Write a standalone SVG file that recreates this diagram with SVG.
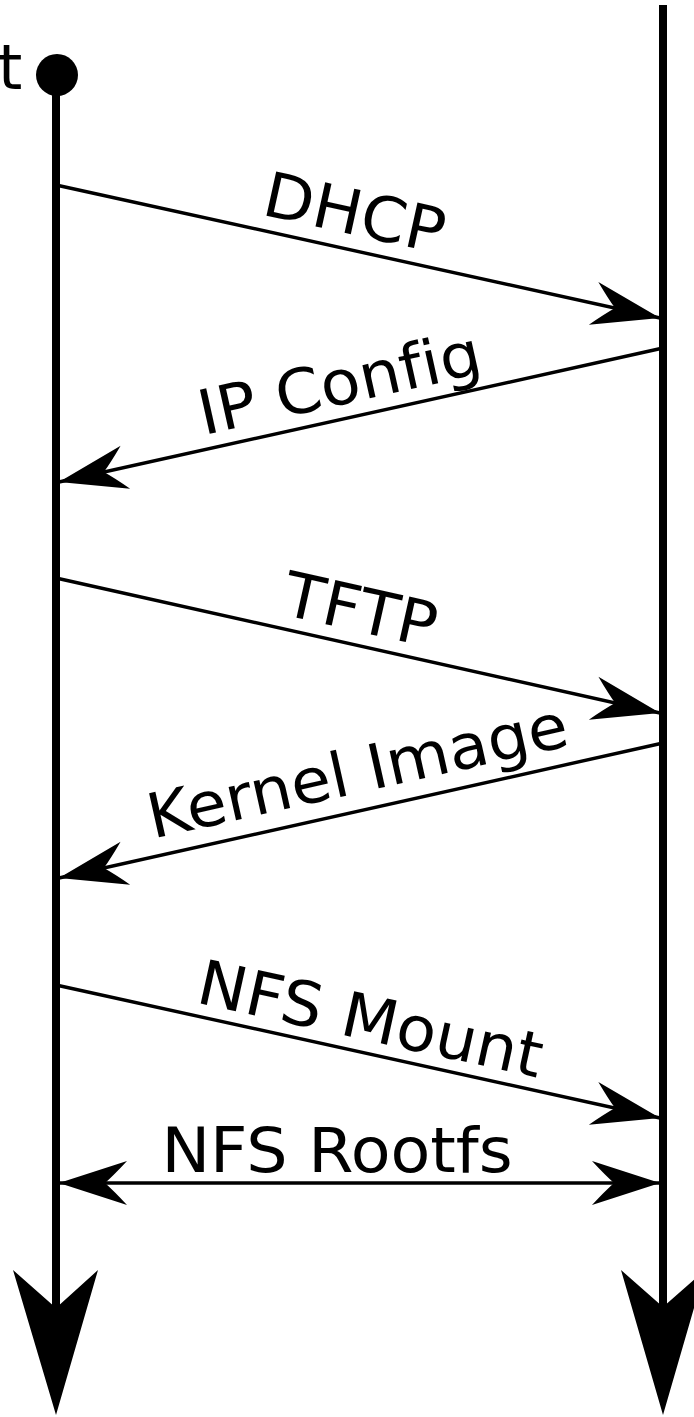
<svg xmlns="http://www.w3.org/2000/svg" width="694" height="1417" viewBox="0 0 694 1417">
<style>
.lbl{font-family:"DejaVu Sans",sans-serif;font-size:62px;fill:#000;text-anchor:middle;font-variant-ligatures:none;font-feature-settings:"liga" 0}
.msg{stroke:#000;stroke-width:3.4;fill:none}
.life{stroke:#000;stroke-width:8;fill:none}
</style>
<defs>
<marker id="ah" markerUnits="userSpaceOnUse" viewBox="-72 -25 77 50" refX="0" refY="0" markerWidth="77" markerHeight="50" orient="auto-start-reverse">
<path d="M0,0 L-68,-22 Q-55,-8 -46,0 Q-55,8 -68,22 Z" fill="#000"/>
</marker>
</defs>
<g id="client">
<text class="lbl" x="-2" y="89" style="text-anchor:start">t</text>
<circle cx="57" cy="75" r="21" fill="#000"/>
<line class="life" x1="56" y1="75" x2="56" y2="1320"/>
<polygon points="56,1415 13,1270 56,1308 98,1270" fill="#000"/>
</g>
<g id="server">
<line class="life" x1="663" y1="5" x2="663" y2="1320"/>
<polygon points="663,1415 621,1270 663,1307 705,1270" fill="#000"/>
</g>
<g id="connectors">
<line class="msg" x1="56" y1="185" x2="660" y2="318" marker-end="url(#ah)"/>
<line class="msg" x1="663" y1="348" x2="59" y2="482" marker-end="url(#ah)"/>
<line class="msg" x1="56" y1="578" x2="660" y2="713" marker-end="url(#ah)"/>
<line class="msg" x1="663" y1="743" x2="59" y2="878" marker-end="url(#ah)"/>
<line class="msg" x1="56" y1="985" x2="660" y2="1118" marker-end="url(#ah)"/>
<line class="msg" x1="59" y1="1183" x2="660" y2="1183" marker-start="url(#ah)" marker-end="url(#ah)"/>
</g>
<g id="labels">
<text class="lbl" transform="translate(350,234) rotate(12.42) scale(1.05,1)">DHCP</text>
<text class="lbl" transform="translate(344,404) rotate(-12.53) scale(1.05,1)">IP Config</text>
<text class="lbl" transform="translate(356,631) rotate(12.6) scale(1.05,1)">TFTP</text>
<text class="lbl" transform="translate(362,792) rotate(-12.6) scale(1.05,1)">Kernel Image</text>
<text class="lbl" transform="translate(366,1040) rotate(12.4) scale(1.05,1)">NFS Mount</text>
<text class="lbl" transform="translate(337,1172) scale(1.05,1)">NFS Rootfs</text>
</g>
</svg>
